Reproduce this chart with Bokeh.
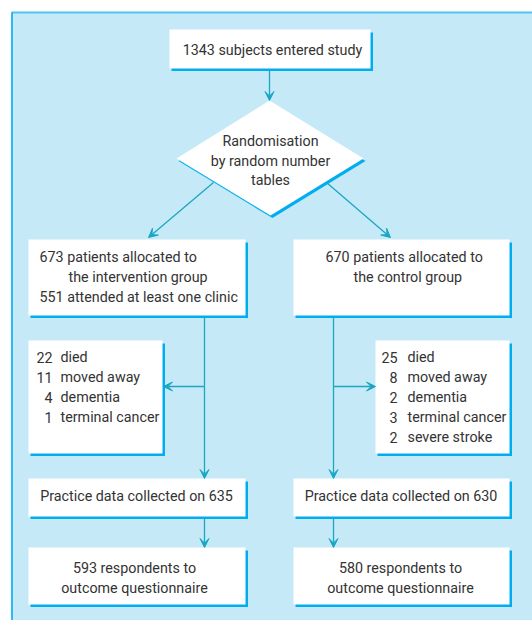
from bokeh.plotting import figure
from bokeh.models import Range1d, Arrow, VeeHead
from bokeh.core.properties import value
from bokeh.embed import file_html
from bokeh.resources import INLINE

# ---------------- data (flow-chart content) ----------------
entered_n = 1343
randomisation_lines = ["Randomisation", "by random number", "tables"]
intervention_n = 673
intervention_attended = 551
control_n = 670
intervention_loss_counts = [22, 11, 4, 1]
intervention_loss_reasons = ["died", "moved away", "dementia", "terminal cancer"]
control_loss_counts = [25, 8, 2, 3, 2]
control_loss_reasons = ["died", "moved away", "dementia", "terminal cancer", "severe stroke"]
practice_n = [635, 630]
respondents_n = [593, 580]

# ---------------- styling ----------------
FONT = value("Roboto")
FS = "14.3px"
TXT = "#333333"
PANEL = "#C6E9F8"
SHADOW = "#00AEEF"
TEAL = "#19A7C3"
DY = -6.3  # baseline -> cap-centre

W, H = 532, 620
p = figure(width=W, height=H, x_range=Range1d(0, W), y_range=Range1d(H, 0),
           output_backend="svg", toolbar_location=None, min_border=0,
           x_axis_location=None, y_axis_location=None)
p.grid.visible = False
p.outline_line_color = None
p.background_fill_color = "white"
p.border_fill_color = "white"

# panel
p.quad(left=[11], right=[W + 10], top=[12], bottom=[H + 10], fill_color=PANEL, line_color=None)
p.segment(x0=[11], y0=[12], x1=[W + 10], y1=[12], line_color="#4FC4F1", line_width=2.2)
p.segment(x0=[11.5], y0=[12], x1=[11.5], y1=[H + 10], line_color=SHADOW, line_width=1.6)

# boxes: top, interv, control, interv-loss, control-loss, practice L/R, respondents L/R
bx = dict(left=[169, 28, 293, 28, 375, 28, 293, 28, 293],
          right=[370, 245, 509, 162, 509, 245, 509, 245, 509],
          top=[29, 239, 239, 340, 340, 478, 478, 547, 547],
          bottom=[68, 315, 315, 453, 453, 516, 516, 604, 604])
sh = dict(left=[v + 2 for v in bx["left"]], right=[v + 2.5 for v in bx["right"]],
          top=[v + 3 for v in bx["top"]], bottom=[v + 2.5 for v in bx["bottom"]])

# connector lines and arrows
p.segment(x0=[204, 333], y0=[315, 315], x1=[204, 333], y1=[386, 386], line_color=TEAL, line_width=1.3)
arrows = [
    (269, 70, 269, 100),
    (213, 182, 148, 237),
    (326, 182, 390, 237),
    (204, 386, 204, 478),
    (204, 386, 163, 386),
    (333, 386, 333, 478),
    (333, 386, 375, 386),
    (204, 518, 204, 547),
    (333, 518, 333, 547),
]
for xs, ys, xe, ye in arrows:
    p.add_layout(Arrow(x_start=xs, y_start=ys, x_end=xe, y_end=ye,
                       line_color=TEAL, line_width=1.3,
                       end=VeeHead(size=9, fill_color=TEAL, line_color=TEAL, line_width=1)))

p.quad(**sh, fill_color=SHADOW, line_color=None)
p.quad(**bx, fill_color="white", line_color=None)

# diamond
dx = [269, 363, 270, 176]
dy = [100, 158, 215, 158]
p.patch([v + 2 for v in dx], [v + 2.6 for v in dy], fill_color=SHADOW, line_color=None)
p.patch(dx, dy, fill_color="white", line_color=None)

def txt(x, y, s, align="center"):
    p.text(x=x, y=[v + DY for v in y], text=s, text_font=FONT, text_font_size=FS,
           text_color=TXT, text_align=align, text_baseline="middle")

txt([272], [56], [f"{entered_n} subjects entered study"])
txt([270, 270, 270], [146.5, 166.5, 186], randomisation_lines)

txt([39, 68, 39], [263, 283, 303],
    [f"{intervention_n} patients allocated to", "the intervention group",
     f"{intervention_attended} attended at least one clinic"], align="left")
txt([325, 353], [263, 283], [f"{control_n} patients allocated to", "the control group"], align="left")

ly = [363, 383, 403, 423, 443]
txt([52] * len(intervention_loss_counts), ly[:len(intervention_loss_counts)],
    [str(v) for v in intervention_loss_counts], align="right")
txt([60] * len(intervention_loss_reasons), ly[:len(intervention_loss_reasons)],
    intervention_loss_reasons, align="left")
txt([397] * len(control_loss_counts), ly[:len(control_loss_counts)],
    [str(v) for v in control_loss_counts], align="right")
txt([407] * len(control_loss_reasons), ly[:len(control_loss_reasons)],
    control_loss_reasons, align="left")

txt([136, 400.5], [502, 502], [f"Practice data collected on {n}" for n in practice_n])
txt([134, 134, 400, 400], [574, 594, 574, 594],
    [f"{respondents_n[0]} respondents to", "outcome questionnaire",
     f"{respondents_n[1]} respondents to", "outcome questionnaire"])

open("out.html", "w").write(file_html(p, INLINE))
